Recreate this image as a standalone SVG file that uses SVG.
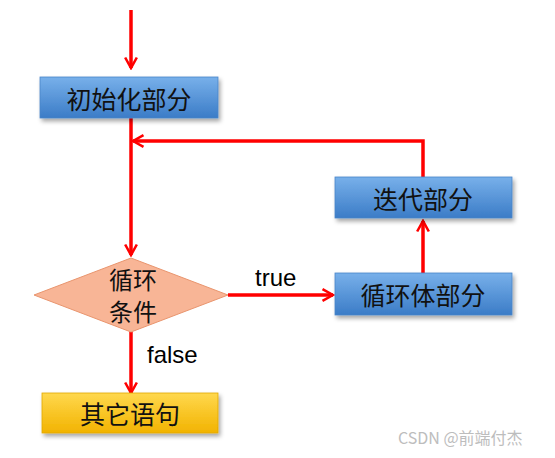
<svg xmlns="http://www.w3.org/2000/svg" width="555" height="458" viewBox="0 0 555 458">
<defs>
<linearGradient id="gBlue" x1="0" y1="0" x2="0" y2="1">
<stop offset="0" stop-color="#78b0ea"/>
<stop offset="1" stop-color="#3b7cc7"/>
</linearGradient>
<linearGradient id="gYellow" x1="0" y1="0" x2="0" y2="1">
<stop offset="0" stop-color="#ffd84e"/>
<stop offset="1" stop-color="#f2b300"/>
</linearGradient>
<filter id="sh" x="-10%" y="-20%" width="125%" height="150%">
<feDropShadow dx="2" dy="3" stdDeviation="2" flood-color="#000" flood-opacity="0.35"/>
</filter>
<marker id="ah" viewBox="0 0 12 12" refX="10" refY="6" markerWidth="4" markerHeight="4" orient="auto" markerUnits="strokeWidth">
<path d="M1,1 L10,6 L1,11" fill="none" stroke="#ff0000" stroke-width="2.2"/>
</marker>
</defs>
<style>
.box{stroke:#4a86c8;stroke-width:0.8;filter:url(#sh)}
.cjk{font-family:"Noto Sans CJK SC","Noto Sans",sans-serif;font-size:25px;fill:#111;text-anchor:middle;dominant-baseline:central}
.lbl{font-family:"Liberation Sans",Arial,sans-serif;font-size:24px;fill:#000}
.c{fill:none;stroke:#ff0000;stroke-width:3.5}
</style>
<rect width="555" height="458" fill="#fff"/>
<g id="connectors">
<line class="c" x1="131" y1="10" x2="131" y2="68" marker-end="url(#ah)"/>
<line class="c" x1="131" y1="118" x2="131" y2="255" marker-end="url(#ah)"/>
<polyline class="c" points="423,177 423,141 133,141" marker-end="url(#ah)"/>
<line class="c" x1="423" y1="273" x2="423" y2="221" marker-end="url(#ah)"/>
<line class="c" x1="228" y1="295" x2="333" y2="295" marker-end="url(#ah)"/>
<line class="c" x1="131" y1="332" x2="131" y2="393" marker-end="url(#ah)"/>
<text class="lbl" x="255" y="286">true</text>
<text class="lbl" x="147" y="363">false</text>
</g>
<g id="init">
<rect class="box" x="40" y="77" width="178" height="41" fill="url(#gBlue)"/>
<text class="cjk" x="129" y="98">初始化部分</text>
</g>
<g id="iter">
<rect class="box" x="335" y="177" width="177" height="41" fill="url(#gBlue)"/>
<text class="cjk" x="423" y="198">迭代部分</text>
</g>
<g id="body">
<rect class="box" x="335" y="273" width="177" height="42" fill="url(#gBlue)"/>
<text class="cjk" x="423" y="294">循环体部分</text>
</g>
<g id="cond">
<polygon points="131,258 228,295 131,332 34,295" fill="#f8b596" stroke="#e9956e" stroke-width="1"/>
<text class="cjk" x="133" y="278" style="font-size:24px">循环</text>
<text class="cjk" x="133" y="310" style="font-size:24px">条件</text>
</g>
<g id="other">
<rect class="box" x="42" y="393" width="176" height="40" fill="url(#gYellow)" style="stroke:#e0a800"/>
<text class="cjk" x="130" y="413">其它语句</text>
</g>
<text x="398" y="444" font-family="'Noto Sans CJK SC',sans-serif" font-size="16" fill="#bdbdbd">CSDN @前端付杰</text>
</svg>
